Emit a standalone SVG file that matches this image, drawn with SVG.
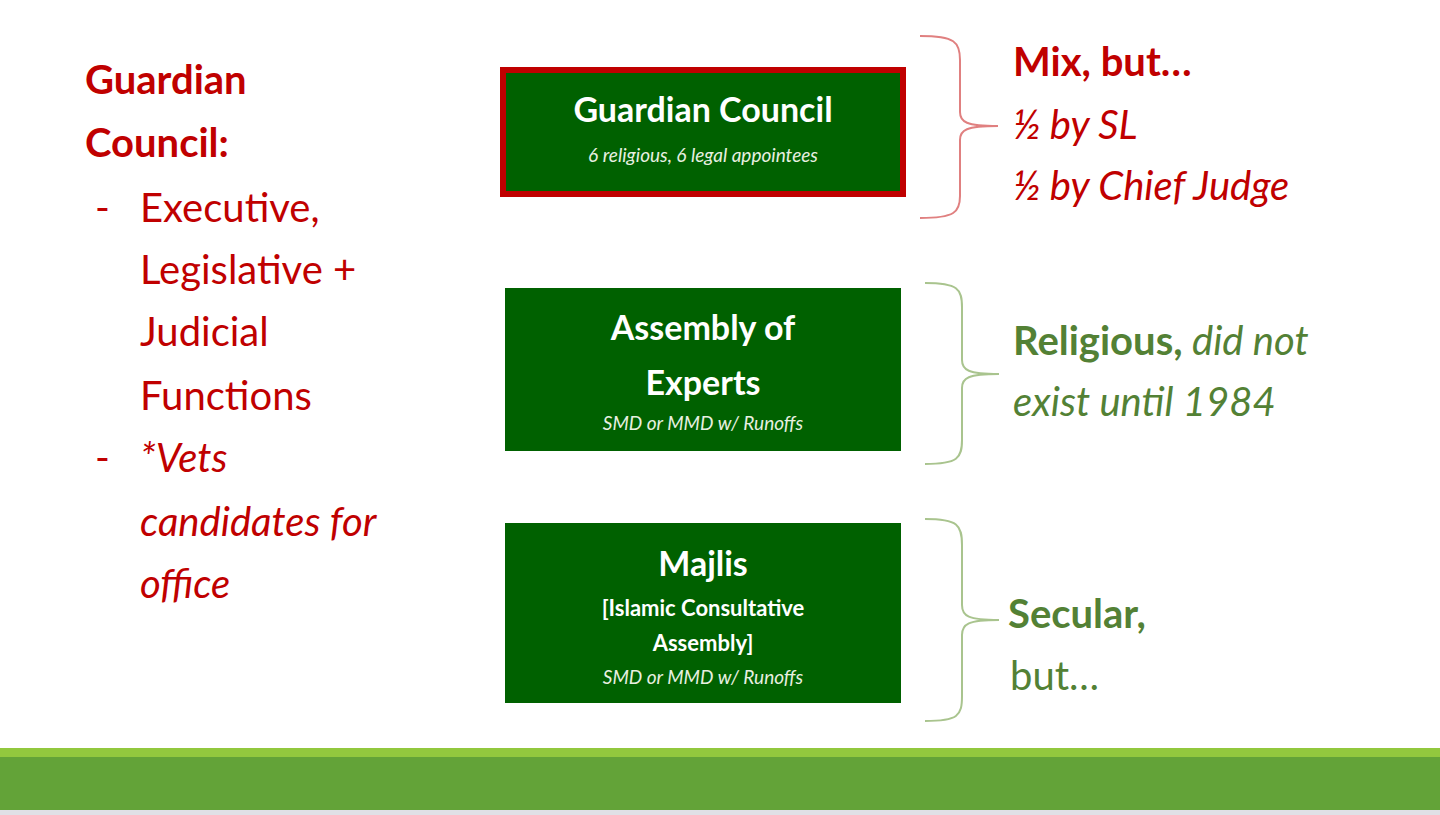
<svg xmlns="http://www.w3.org/2000/svg" width="1440" height="815" viewBox="0 0 1440 815">
<style>
text{font-family:Lato,"Open Sans","Liberation Sans",sans-serif}
.red{fill:#c00000}.grn{fill:#538135}
.box{fill:#006100}
.t{fill:#fff;font-weight:bold;text-anchor:middle}
.s{fill:#e8f0e0;font-style:italic;text-anchor:middle;font-size:19px}
.br{fill:none;stroke-width:2}
</style>
<rect width="1440" height="815" fill="#fff"/>
<rect x="0" y="748" width="1440" height="10" fill="#92c83e"/>
<rect x="0" y="757" width="1440" height="53" fill="#63a338"/>
<rect x="0" y="810" width="1440" height="5" fill="#e0e0e6"/>
<g id="left" class="red" font-size="40">
<text x="85" y="94" font-weight="bold">Guardian</text>
<text x="85" y="157" font-weight="bold">Council:</text>
<text x="95" y="222">-</text><text x="140" y="222">Executive,</text>
<text x="140" y="284">Legislative +</text>
<text x="140" y="346">Judicial</text>
<text x="140" y="410">Functions</text>
<text x="95" y="472">-</text><text x="140" y="472" font-style="italic">*Vets</text>
<text x="140" y="536" font-style="italic">candidates for</text>
<text x="140" y="598" font-style="italic">office</text>
</g>
<g id="gc">
<rect x="503" y="70" width="400" height="124" class="box" stroke="#c00000" stroke-width="6"/>
<text x="703" y="122" class="t" font-size="34">Guardian Council</text>
<text x="703" y="162" class="s">6 religious, 6 legal appointees</text>
</g>
<g id="ae">
<rect x="505" y="288" width="396" height="163" class="box"/>
<text x="703" y="340" class="t" font-size="34">Assembly of</text>
<text x="703" y="395" class="t" font-size="34">Experts</text>
<text x="703" y="430" class="s">SMD or MMD w/ Runoffs</text>
</g>
<g id="mj">
<rect x="505" y="523" width="396" height="180" class="box"/>
<text x="703" y="576" class="t" font-size="34">Majlis</text>
<text x="703" y="616" class="t" font-size="22">[Islamic Consultative</text>
<text x="703" y="651" class="t" font-size="22">Assembly]</text>
<text x="703" y="684" class="s">SMD or MMD w/ Runoffs</text>
</g>
<g id="connectors">
<path class="br" stroke="#e08080" d="M920,36 C955,36 960,42 960,60 L960,112 C960,122 966,126 998,126 M998,126 C966,126 960,130 960,140 L960,196 C960,212 955,218 920,218"/>
<path class="br" stroke="#a9c48e" d="M925,283 C958,283 962,289 962,307 L962,360 C962,370 968,374 999,374 M999,374 C968,374 962,378 962,388 L962,440 C962,458 958,464 925,464"/>
<path class="br" stroke="#a9c48e" d="M925,519 C958,519 962,525 962,545 L962,605 C962,616 968,620 999,620 M999,620 C968,620 962,624 962,635 L962,696 C962,716 958,721 925,721"/>
</g>
<g id="rt" font-size="40">
<text x="1013" y="76" class="red" font-weight="bold">Mix, but…</text>
<text x="1013" y="139" class="red" font-style="italic">½ by SL</text>
<text x="1013" y="200" class="red" font-style="italic">½ by Chief Judge</text>
<text x="1013" y="355" class="grn"><tspan font-weight="bold">Religious,</tspan><tspan font-style="italic"> did not</tspan></text>
<text x="1013" y="416" class="grn" font-style="italic">exist until 1984</text>
<text x="1008" y="628" class="grn" font-weight="bold">Secular,</text>
<text x="1010" y="690" class="grn">but…</text>
</g>
</svg>
